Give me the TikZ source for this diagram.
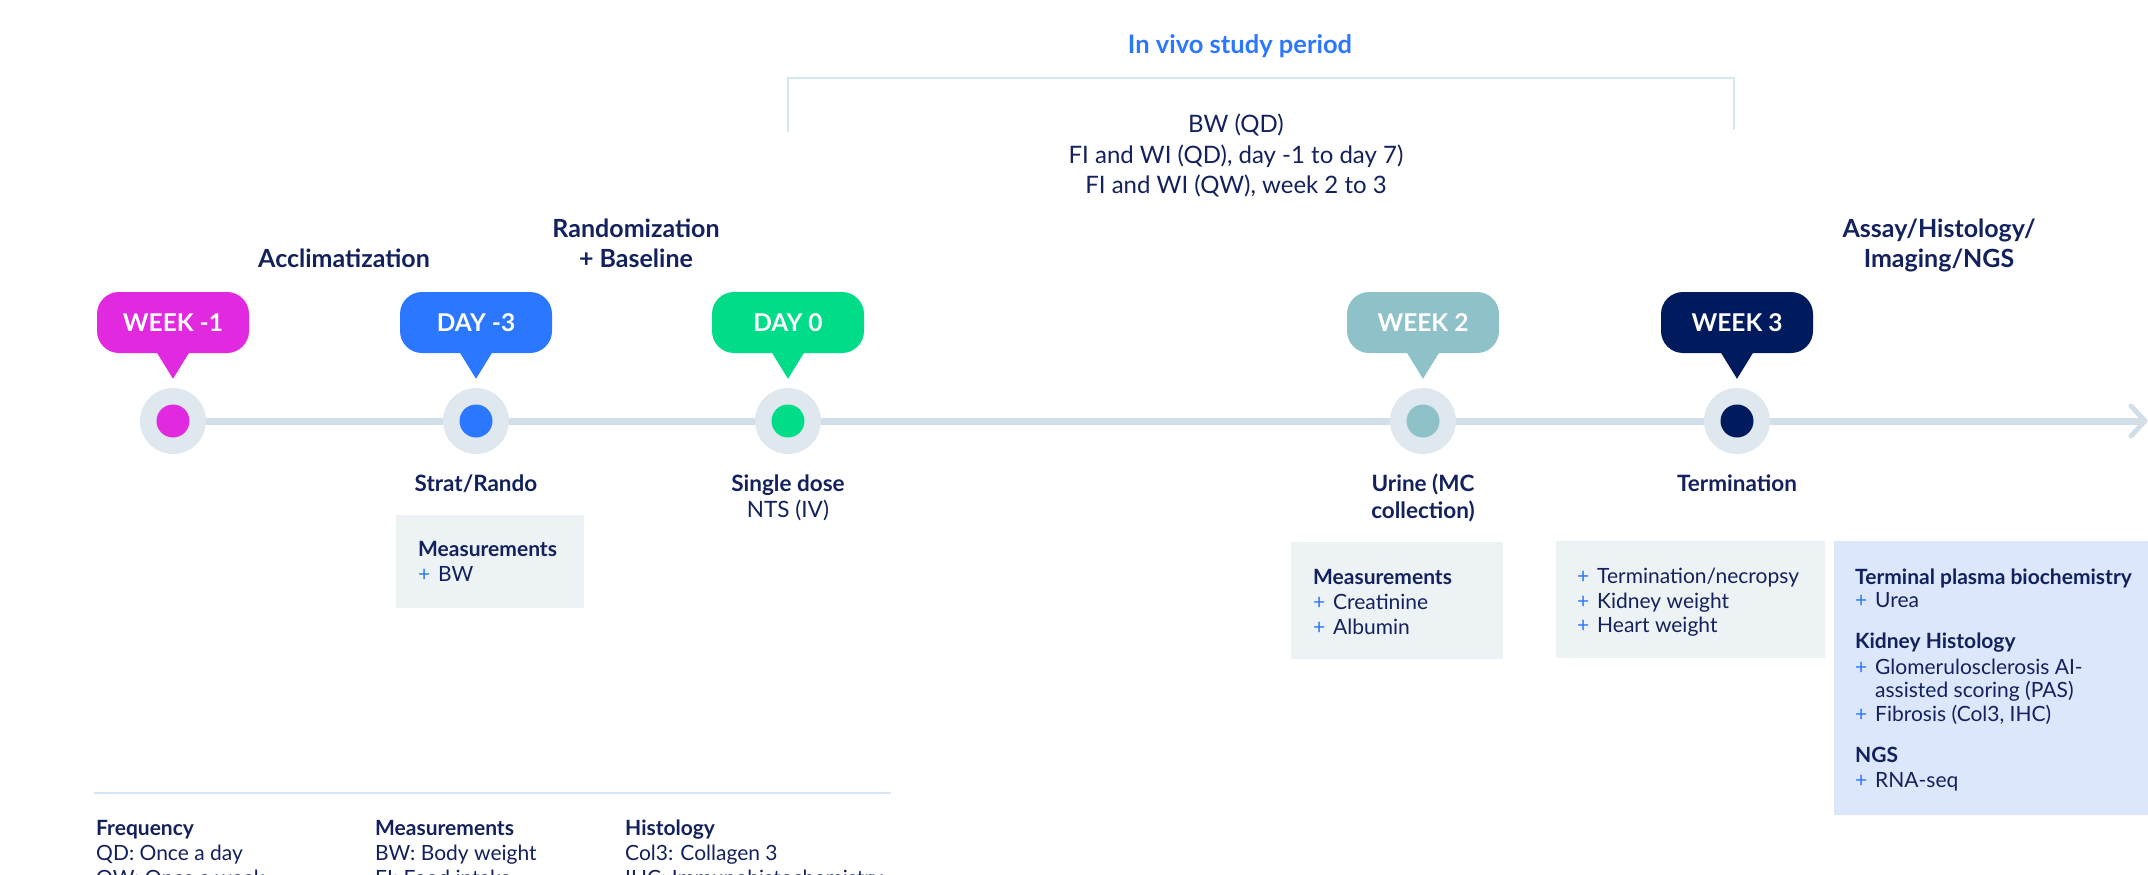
\documentclass[tikz,border=0pt]{standalone}
\usepackage{fontspec}
\setmainfont{Lato}
\usetikzlibrary{calc}
\pgfdeclarelayer{bg}
\pgfsetlayers{bg,main}

\definecolor{ink}{HTML}{13215C}
\definecolor{accent}{HTML}{2B77FF}
\definecolor{cMag}{HTML}{E12ADF}
\definecolor{cBlue}{HTML}{2B77FF}
\definecolor{cGreen}{HTML}{00DC87}
\definecolor{cTeal}{HTML}{8EC2C8}
\definecolor{cNavy}{HTML}{001A5E}
\definecolor{ringc}{HTML}{DFE8EF}
\definecolor{linec}{HTML}{D2DFE8}
\definecolor{boxgrey}{HTML}{EDF2F5}
\definecolor{boxblue}{HTML}{DCE7FB}
\definecolor{bracketc}{HTML}{D3E8EB}
\definecolor{rulec}{HTML}{D6E5F8}

\tikzset{
  title/.style={font=\fontsize{25}{28}\selectfont\bfseries, text=ink, inner sep=0pt, text height=18pt, text depth=0pt},
  period/.style={font=\fontsize{24}{28}\selectfont, text=ink, inner sep=0pt, text height=17.2pt, text depth=0pt},
  label/.style={font=\fontsize{22.5}{26}\selectfont\bfseries, text=ink, inner sep=0pt, text height=16.2pt, text depth=0pt},
  labelr/.style={label, font=\fontsize{22.5}{26}\selectfont},
  body/.style={font=\fontsize{21}{25}\selectfont, text=ink, inner sep=0pt, text height=15.1pt, text depth=0pt, anchor=west},
  bodyb/.style={body, font=\fontsize{21}{25}\selectfont\bfseries},
  plus/.style={body, text=accent},
  bubble/.style={rounded corners=22pt, minimum width=152pt, minimum height=61pt, inner sep=0pt,
    font=\fontsize{24.5}{26}\selectfont\bfseries, text=white, text height=17.6pt, text depth=0pt},
  ring/.style={circle, fill=ringc, minimum size=66pt, inner sep=0pt},
  dot/.style={circle, minimum size=33pt, inner sep=0pt},
}

\begin{document}
\begin{tikzpicture}[x=1pt,y=-1pt]
\useasboundingbox (0,0) rectangle (2148,875);
\clip (0,0) rectangle (2148,875);

% study period header and bracket
\node[title, text=accent, font=\fontsize{25.5}{28}\selectfont\bfseries] (period) at (1240,45) {In vivo study period};
\coordinate (brL) at (788,132);
\coordinate (brR) at (1734,130);
\draw[bracketc, line width=2pt] (brL) |- (1261,78) -| (brR);
\node[period] (p1) at (1236,124) {BW (QD)};
\node[period] (p2) at (1236,155) {FI and WI (QD), day -1 to day 7)};
\node[period] (p3) at (1236,185) {FI and WI (QW), week 2 to 3};

% phase titles
\node[title] (accl) at (344,258) {Acclimatization};
\node[title] (rand1) at (636,228) {Randomization};
\node[title] (rand2) at (636,258) {+ Baseline};
\node[title] (assay1) at (1939,228) {Assay/Histology/};
\node[title] (assay2) at (1939,258) {Imaging/NGS};

% timeline markers with their bubbles
\foreach \n/\x/\c/\t in {a/173/cMag/WEEK -1, b/476/cBlue/DAY -3, c/788/cGreen/DAY 0, d/1423/cTeal/WEEK 2, e/1737/cNavy/WEEK 3}{
  \node[ring] (mk\n) at (\x,421) {};
  \node[dot, fill=\c] (dot\n) at (mk\n) {};
  \node[bubble, fill=\c] (bub\n) at (\x,322.5) {\t};
  \coordinate (tip\n) at ($(mk\n.north)+(0,-9)$);
  \fill[\c] ($(bub\n.south)+(-17,-2)$) -- ($(bub\n.south)+(17,-2)$) -- (tip\n) -- cycle;
}

% timeline axis
\coordinate (tlend) at (2145,421);
\begin{pgfonlayer}{bg}
  \draw[linec, line width=7pt] (mka.center) -- (tlend);
\end{pgfonlayer}
\draw[linec, line width=5pt, line cap=round, line join=round]
  ($(tlend)+(-14,-15)$) -- (tlend) -- ($(tlend)+(-14,15)$);

% labels under markers
\node[label] (lb) at (476,483) {Strat/Rando};
\node[label] (lc1) at (788,483) {Single dose};
\node[labelr] (lc2) at (788,509) {NTS (IV)};
\node[label] (ld1) at (1423,483) {Urine (MC};
\node[label] (ld2) at (1423,510) {collection)};
\node[label] (le) at (1737,483) {Termination};

% box: baseline measurements
\fill[boxgrey] (396,515) rectangle (584,608);
\node[bodyb] (m1h) at (418,549) {Measurements};
\node[plus] (m1p1) at (418,574) {+};
\node[body] (m1t1) at (438,574) {BW};

% box: urine measurements
\fill[boxgrey] (1291,542) rectangle (1503,659);
\node[bodyb] (m2h) at (1313,577) {Measurements};
\node[plus] (m2p1) at (1313,602) {+};
\node[body] (m2t1) at (1333,602) {Creatinine};
\node[plus] (m2p2) at (1313,627) {+};
\node[body] (m2t2) at (1333,627) {Albumin};

% box: termination
\fill[boxgrey] (1556,541) rectangle (1825,658);
\node[plus] (m3p1) at (1577,576) {+};
\node[body] (m3t1) at (1597,576) {Termination/necropsy};
\node[plus] (m3p2) at (1577,601) {+};
\node[body] (m3t2) at (1597,601) {Kidney weight};
\node[plus] (m3p3) at (1577,625) {+};
\node[body] (m3t3) at (1597,625) {Heart weight};

% box: terminal readouts
\fill[boxblue] (1834,541) rectangle (2148,815);
\node[bodyb] (m4h1) at (1855,577) {Terminal plasma biochemistry};
\node[plus] (m4p1) at (1855,600) {+};
\node[body] (m4t1) at (1875,600) {Urea};
\node[bodyb] (m4h2) at (1855,641) {Kidney Histology};
\node[plus] (m4p2) at (1855,667) {+};
\node[body] (m4t2) at (1875,667) {Glomerulosclerosis AI-};
\node[body] (m4t3) at (1875,690) {assisted scoring (PAS)};
\node[plus] (m4p4) at (1855,714) {+};
\node[body] (m4t4) at (1875,714) {Fibrosis (Col3, IHC)};
\node[bodyb] (m4h3) at (1855,755) {NGS};
\node[plus] (m4p5) at (1855,780) {+};
\node[body] (m4t5) at (1875,780) {RNA-seq};

% abbreviations
\draw[rulec, line width=2pt] (94,793) -- (891,793);
\node[bodyb] (f0) at (96,828) {Frequency};
\node[body] (f1) at (96,853) {QD: Once a day};
\node[body] (f2) at (96,878) {QW: Once a week};
\node[bodyb] (g0) at (375,828) {Measurements};
\node[body] (g1) at (375,853) {BW: Body weight};
\node[body] (g2) at (375,878) {FI: Food intake};
\node[bodyb] (h0) at (625,828) {Histology};
\node[body] (h1) at (625,853) {Col3: Collagen 3};
\node[body] (h2) at (625,878) {IHC: Immunohistochemistry};
\end{tikzpicture}
\end{document}
